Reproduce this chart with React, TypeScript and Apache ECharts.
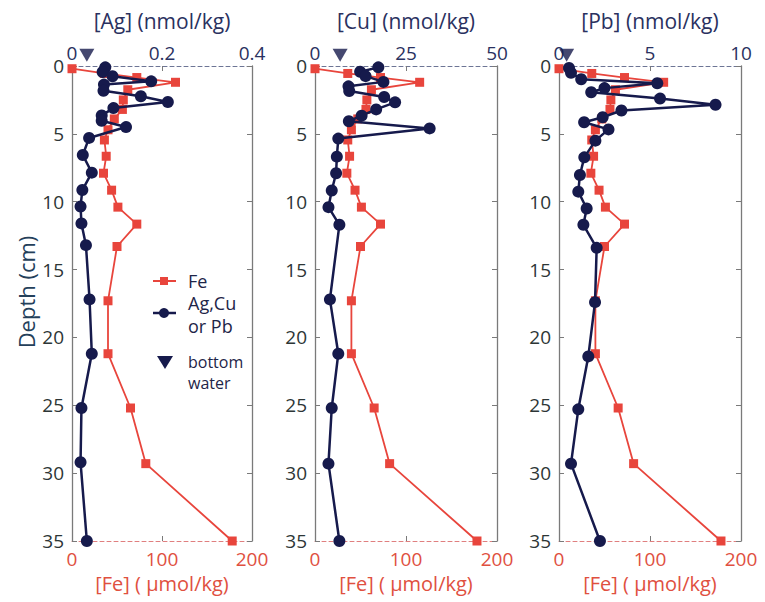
import React, { useEffect, useRef } from "react";
import * as echarts from "echarts";

// ---------- data ----------
const metalNames = ["Ag", "Cu", "Pb"];
const metalMax = [0.4, 50, 10];
const metalInterval = [0.2, 25, 5];
const feMax = 200;
const feInterval = 100;
const depthMax = 35;
const depthInterval = 5;

const feDepth = [0.2, 0.55, 0.85, 1.2, 1.75, 2.5, 3.2, 3.9, 4.7, 5.45, 6.65, 7.9, 9.15, 10.4, 11.65, 13.3, 17.3, 21.2, 25.2, 29.3, 35];
const feValues = [0, 36, 72, 115, 62, 57, 56, 47, 40, 36, 38, 35, 44, 51, 72, 50, 40, 40, 65, 82, 178];

const agDepth = [0.1, 0.44, 0.76, 1.13, 1.37, 1.82, 2.23, 2.65, 3.1, 3.64, 4.03, 4.5, 5.3, 6.56, 7.86, 9.14, 10.35, 11.6, 13.2, 17.2, 21.2, 25.2, 29.2, 35];
const agValues = [0.074, 0.068, 0.09, 0.176, 0.071, 0.07, 0.153, 0.213, 0.092, 0.066, 0.066, 0.12, 0.038, 0.024, 0.044, 0.023, 0.019, 0.021, 0.031, 0.039, 0.044, 0.021, 0.019, 0.033];

const cuDepth = [0.1, 0.42, 0.75, 1.17, 1.5, 1.84, 2.28, 2.68, 3.2, 3.66, 4.07, 4.6, 5.35, 6.68, 7.9, 9.17, 10.4, 11.7, 17.2, 21.2, 25.2, 29.3, 35];
const cuValues = [17.4, 12.4, 13.9, 18.8, 9.2, 9.4, 19.0, 22.0, 16.8, 12.8, 9.3, 31.5, 6.4, 6.0, 5.8, 4.6, 3.7, 6.7, 4.1, 6.4, 4.6, 3.7, 6.7];

const pbDepth = [0.15, 0.5, 0.98, 1.27, 1.63, 1.93, 2.4, 2.86, 3.28, 3.78, 4.14, 4.67, 5.5, 6.73, 8.03, 9.26, 10.5, 11.7, 13.4, 17.4, 21.4, 25.3, 29.3, 35];
const pbValues = [0.55, 0.66, 1.22, 5.4, 2.5, 1.77, 5.55, 8.6, 3.43, 2.4, 1.38, 2.72, 2.0, 1.39, 1.15, 1.06, 1.52, 1.34, 2.07, 1.98, 1.61, 1.06, 0.66, 2.25];

const bottomWaterDepth = -0.8;
const bottomWaterValues = [0.033, 6.9, 0.42];

const metalDepths = [agDepth, cuDepth, pbDepth];
const metalValues = [agValues, cuValues, pbValues];

// ---------- styles ----------
const FONT = "'Open Sans', 'Noto Sans', sans-serif";
const RED = "#e8453c";
const NAVY = "#161a4c";
const NAVY_TEXT = "#2a3160";
const RED_TEXT = "#e0503f";
const GRAY = "#7a7a7a";
const gridLefts = [72, 315, 559];
const gridWidths = [180, 182, 182];
const gridTop = 66;
const gridHeight = 475;

export default function App() {
  const ref = useRef<HTMLDivElement>(null);

  useEffect(() => {
    if (!ref.current) return;
    const chart = echarts.init(ref.current, undefined, { renderer: "svg" });

    const grid: any[] = [];
    const xAxis: any[] = [];
    const yAxis: any[] = [];
    const series: any[] = [];

    for (let i = 0; i < 3; i++) {
      grid.push({ left: gridLefts[i], top: gridTop, width: gridWidths[i], height: gridHeight });
      xAxis.push({
        gridIndex: i,
        type: "value",
        position: "top",
        min: 0,
        max: metalMax[i],
        interval: metalInterval[i],
        name: `[${metalNames[i]}] (nmol/kg)`,
        nameLocation: "middle",
        nameGap: 35,
        nameTextStyle: { color: NAVY_TEXT, fontSize: 21, fontFamily: FONT },
        axisLine: { show: true, onZero: false, lineStyle: { color: "#6d7595", type: [4, 3], width: 1 } },
        axisTick: { show: true, inside: true, length: 5, lineStyle: { color: GRAY } },
        axisLabel: { color: NAVY_TEXT, fontSize: 19, fontFamily: FONT, margin: 4 },
        splitLine: { show: false },
      });
      xAxis.push({
        gridIndex: i,
        type: "value",
        position: "bottom",
        min: 0,
        max: feMax,
        interval: feInterval,
        name: "[Fe] ( \u00b5mol/kg)",
        nameLocation: "middle",
        nameGap: 32,
        nameTextStyle: { color: RED_TEXT, fontSize: 20, fontFamily: FONT },
        axisLine: { show: true, onZero: false, lineStyle: { color: "#e07f7f", type: [4, 3], width: 1 } },
        axisTick: { show: true, inside: true, length: 5, lineStyle: { color: GRAY } },
        axisLabel: { color: RED_TEXT, fontSize: 19, fontFamily: FONT, margin: 8 },
        splitLine: { show: false },
      });
      yAxis.push({
        gridIndex: i,
        type: "value",
        position: "left",
        inverse: true,
        min: 0,
        max: depthMax,
        interval: depthInterval,
        axisLine: { show: true, onZero: false, lineStyle: { color: GRAY, width: 1.3 } },
        axisTick: { show: true, inside: true, length: 5, lineStyle: { color: GRAY } },
        axisLabel: { color: "#2d3636", fontSize: 19, fontFamily: FONT, margin: 8 },
        splitLine: { show: false },
      });
      yAxis.push({
        gridIndex: i,
        type: "value",
        position: "right",
        inverse: true,
        min: 0,
        max: depthMax,
        interval: depthInterval,
        axisLine: { show: true, onZero: false, lineStyle: { color: GRAY, width: 1.3 } },
        axisTick: { show: true, inside: true, length: 5, lineStyle: { color: GRAY } },
        axisLabel: { show: false },
        splitLine: { show: false },
      });

      series.push({
        type: "line",
        name: "Fe",
        xAxisIndex: 2 * i + 1,
        yAxisIndex: 2 * i,
        data: feValues.map((v, k) => [v, feDepth[k]]),
        symbol: "rect",
        symbolSize: 9,
        itemStyle: { color: RED },
        lineStyle: { color: RED, width: 1.8 },
        z: 2,
      });
      series.push({
        type: "line",
        name: metalNames[i],
        xAxisIndex: 2 * i,
        yAxisIndex: 2 * i,
        data: metalValues[i].map((v, k) => [v, metalDepths[i][k]]),
        symbol: "circle",
        symbolSize: 12,
        itemStyle: { color: NAVY },
        lineStyle: { color: NAVY, width: 2.5 },
        z: 3,
      });
      series.push({
        type: "scatter",
        name: "bottom water",
        xAxisIndex: 2 * i,
        yAxisIndex: 2 * i,
        data: [[bottomWaterValues[i], bottomWaterDepth]],
        symbol: "triangle",
        symbolRotate: 180,
        symbolSize: [15, 13],
        itemStyle: { color: NAVY },
        clip: false,
        z: 4,
      });
    }

    const legendText = { fill: "#1e2548", fontSize: 18, fontFamily: FONT, verticalAlign: "middle" };
    const graphic: any[] = [
      {
        type: "text",
        x: 26,
        y: 292,
        rotation: Math.PI / 2,
        style: { text: "Depth (cm)", fill: "#24405a", fontSize: 22, fontFamily: FONT, align: "center", verticalAlign: "middle" },
      },
      { type: "line", shape: { x1: 153, y1: 281, x2: 176, y2: 281 }, style: { stroke: RED, lineWidth: 2 } },
      { type: "rect", shape: { x: 160, y: 277, width: 8, height: 8 }, style: { fill: RED } },
      { type: "text", x: 188, y: 281, style: { ...legendText, text: "Fe" } },
      { type: "line", shape: { x1: 153, y1: 313, x2: 176, y2: 313 }, style: { stroke: NAVY, lineWidth: 2.5 } },
      { type: "circle", shape: { cx: 164, cy: 313, r: 5 }, style: { fill: NAVY } },
      { type: "text", x: 188, y: 303, style: { ...legendText, text: "Ag,Cu" } },
      { type: "text", x: 188, y: 326, style: { ...legendText, text: "or Pb" } },
      { type: "polygon", shape: { points: [[157, 356], [173, 356], [165, 369]] }, style: { fill: NAVY } },
      { type: "text", x: 188, y: 362, style: { ...legendText, fontSize: 16, text: "bottom" } },
      { type: "text", x: 188, y: 383, style: { ...legendText, fontSize: 16, text: "water" } },
    ];

    chart.setOption({
      animation: false,
      backgroundColor: "#ffffff",
      grid,
      xAxis,
      yAxis,
      series,
      graphic,
    });

    return () => chart.dispose();
  }, []);

  return (
    <div
      ref={ref}
      style={{ position: "fixed", left: 0, top: 0, width: 765, height: 602, background: "#fff" }}
    />
  );
}
